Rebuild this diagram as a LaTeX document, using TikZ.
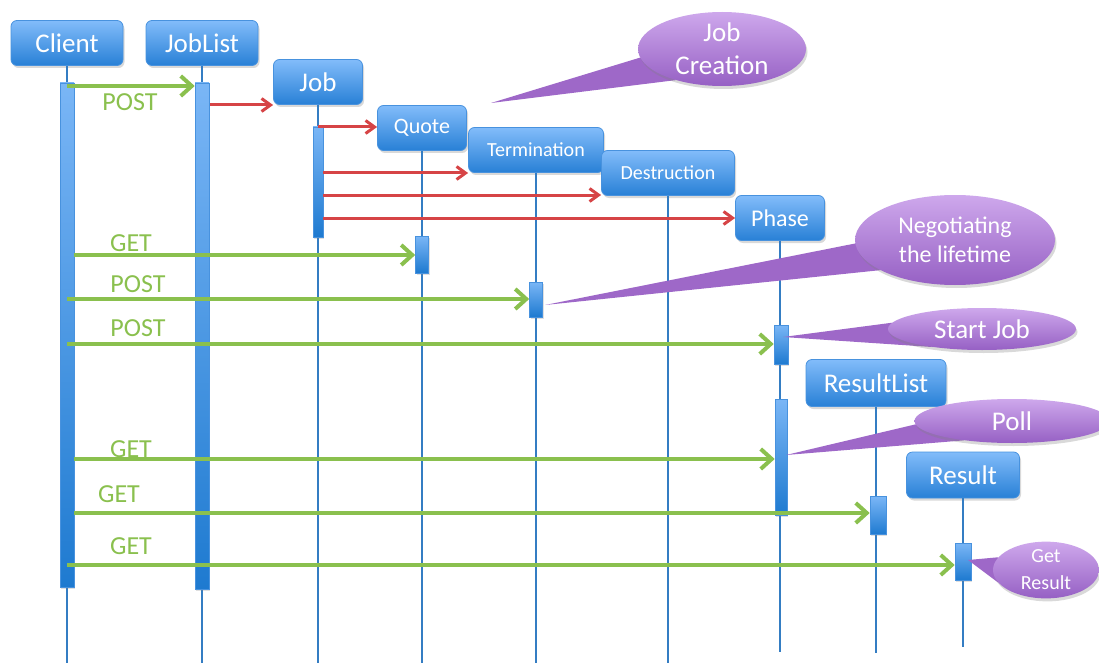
\documentclass[tikz,border=0pt]{standalone}
\usepackage{fontspec}
\setmainfont{Carlito}
\usetikzlibrary{arrows.meta,shadows,shapes.geometric}
\definecolor{boxtop}{RGB}{130,188,250}
\definecolor{boxbot}{RGB}{40,128,214}
\definecolor{boxedge}{RGB}{72,146,222}
\definecolor{lifeblue}{RGB}{52,125,195}
\definecolor{bartop}{RGB}{122,182,246}
\definecolor{barbot}{RGB}{30,122,208}
\definecolor{msggreen}{RGB}{138,192,78}
\definecolor{msgred}{RGB}{214,68,70}
\definecolor{balltop}{RGB}{206,168,236}
\definecolor{ballbot}{RGB}{150,96,196}
\definecolor{balltail}{RGB}{158,104,200}
\pgfdeclarelayer{front}
\pgfsetlayers{main,front}

\begin{document}
\begin{tikzpicture}[x=1pt,y=-1pt,
    obj/.style={rectangle,rounded corners=6pt,draw=boxedge,line width=0.8pt,top color=boxtop,bottom color=boxbot,text=white,minimum height=45pt,inner sep=0pt,font=\fontsize{27}{32}\selectfont,drop shadow={opacity=0.3,shadow xshift=1.5pt,shadow yshift=-2.5pt}},
    bar/.style={rectangle,draw=boxedge,line width=0.6pt,top color=bartop,bottom color=barbot,inner sep=0pt,minimum width=14pt,drop shadow={opacity=0.25,shadow xshift=1pt,shadow yshift=-1.5pt}},
    life/.style={lifeblue,line width=2.6pt},
    msg/.style={msggreen,line width=4pt,-{Straight Barb[length=11pt,width=20pt]}},
    make/.style={msgred,line width=3pt,-{Straight Barb[length=9pt,width=13pt]}},
    verb/.style={text=msggreen,inner sep=0pt,font=\fontsize{26}{30}\selectfont},
    ball/.style={ellipse,top color=balltop,bottom color=ballbot,text=white,align=center,inner sep=0pt,drop shadow={opacity=0.3,shadow xshift=1.5pt,shadow yshift=-3pt}},
    tail/.style={fill=balltail}]
    \useasboundingbox (0,0) rectangle (1099,663);

    \node[obj,minimum width=112pt] (client) at (67,43) {Client};
    \node[obj,minimum width=112pt] (joblist) at (202,43) {JobList};
    \node[obj,minimum width=89pt] (job) at (318,82) {Job};
    \node[obj,minimum width=89pt,font=\fontsize{22}{26}\selectfont] (quote) at (422,128) {Quote};
    \node[obj,minimum width=135pt,font=\fontsize{20}{24}\selectfont] (term) at (536,150) {Termination};
    \node[obj,minimum width=133pt,font=\fontsize{20}{24}\selectfont] (destr) at (668,173) {Destruction};
    \node[obj,minimum width=89pt,font=\fontsize{24}{28}\selectfont] (phase) at (780,218) {Phase};
    \node[obj,minimum width=140pt,minimum height=47pt] (rlist) at (876,383) {ResultList};
    \node[obj,minimum width=113pt,minimum height=46pt] (result) at (963,475) {Result};

    \foreach \n/\e in {client/663,joblist/663,job/663,quote/663,term/663,destr/663,phase/652,rlist/653,result/647}
        {
            \draw[life] (\n.south) -- (\n.south |- 0,\e);
        }

    \node[bar,minimum height=504pt] (cbar) at (67,335) {};
    \node[bar,minimum height=506pt] (jbar) at (202,336) {};
    \node[bar,minimum width=10pt,minimum height=110pt] (jobbar) at (318,182) {};
    \node[bar,minimum width=13pt,minimum height=37pt] (qbar) at (422,254.5) {};
    \node[bar,minimum width=13pt,minimum height=35pt] (tbar) at (536,299.5) {};
    \node[bar,minimum height=39pt] (pbar) at (781,344.5) {};
    \node[bar,minimum width=12pt,minimum height=116pt] (pollbar) at (781,457) {};
    \node[bar,minimum width=16pt,minimum height=38pt] (rlbar) at (878,515.5) {};
    \node[bar,minimum width=16pt,minimum height=37pt] (rbar) at (963,561.5) {};

    \coordinate (mk1) at (210,105);
    \coordinate (mk2) at (318,127);
    \coordinate (mk3) at (323,173);
    \coordinate (mk4) at (323,195);
    \coordinate (mk5) at (323,218);
    \draw[make] (mk1) -- (mk1 -| job.west);
    \draw[make] (mk2) -- (mk2 -| quote.west);
    \draw[make] (mk3) -- (mk3 -| term.west);
    \draw[make] (mk4) -- (mk4 -| destr.west);
    \draw[make] (mk5) -- (mk5 -| phase.west);

    \coordinate (post1) at (67,86);
    \coordinate (get1) at (74,255);
    \coordinate (post2) at (67,299);
    \coordinate (post3) at (67,344);
    \coordinate (get2) at (74,459);
    \coordinate (get3) at (74,513);
    \coordinate (get4) at (67,565);
    \draw[msg] (post1) -- (post1 -| jbar.west);
    \draw[msg] (get1) -- (get1 -| qbar.west);
    \draw[msg] (post2) -- (post2 -| tbar.west);
    \draw[msg] (post3) -- (post3 -| pbar.west);
    \draw[msg] (get2) -- (get2 -| pollbar.west);
    \draw[msg] (get3) -- (get3 -| rlbar.west);
    \draw[msg] (get4) -- (get4 -| rbar.west);

    \node[verb] (lpost1) at (130,102) {POST};
    \node[verb] (lget1) at (131,243) {GET};
    \node[verb] (lpost2) at (138,284) {POST};
    \node[verb] (lpost3) at (138,328) {POST};
    \node[verb] (lget2) at (131,449) {GET};
    \node[verb] (lget3) at (119,494) {GET};
    \node[verb] (lget4) at (131,546) {GET};

    \begin{pgfonlayer}{front}
        \node[ball,minimum width=168pt,minimum height=74pt,font=\fontsize{27}{33}\selectfont] (creation) at (722,49) {Job\\Creation};
        \node[ball,minimum width=200pt,minimum height=90pt,font=\fontsize{24}{29}\selectfont] (nego) at (955,240) {Negotiating\\the lifetime};
        \node[ball,minimum width=188pt,minimum height=42pt,font=\fontsize{27}{32}\selectfont] (start) at (982,329) {Start Job};
        \node[ball,minimum width=195pt,minimum height=44pt,font=\fontsize{27}{32}\selectfont] (poll) at (1012,421) {Poll};
        \node[ball,minimum width=106pt,minimum height=54pt,font=\fontsize{20}{27}\selectfont] (getres) at (1046,570) {Get\\Result};
    \end{pgfonlayer}

    \coordinate (creationtip) at (491,103);
    \coordinate (negotip) at (545,305);
    \coordinate (starttip) at (783,337);
    \coordinate (polltip) at (786,455);
    \coordinate (getrestip) at (968,560);
    \fill[tail] (creationtip) -- (creation.186) -- (creation.214) -- cycle;
    \fill[tail] (negotip) -- (nego.182) -- (nego.202) -- cycle;
    \fill[tail] (starttip) -- (start.176) -- (start.200) -- cycle;
    \fill[tail] (polltip) -- (poll.182) -- (poll.202) -- cycle;
    \fill[tail] (getrestip) -- (getres.165) -- (getres.195) -- cycle;
\end{tikzpicture}
\end{document}
